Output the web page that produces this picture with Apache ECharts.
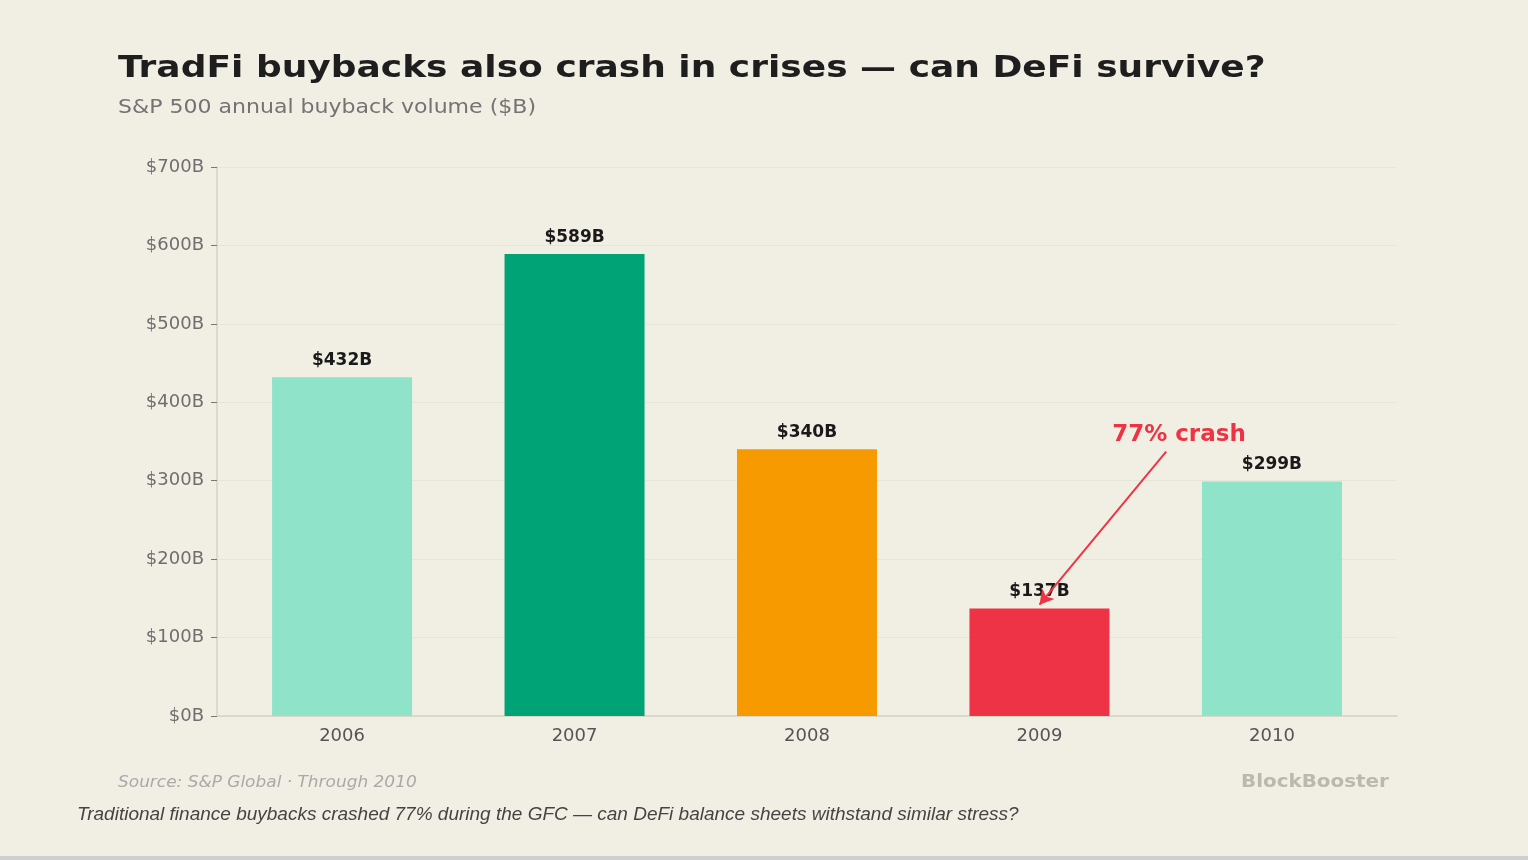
<!DOCTYPE html>
<html>
<head>
<meta charset="utf-8">
<script src="https://cdn.jsdelivr.net/npm/echarts@6/dist/echarts.min.js"></script>
<style>
  html, body { margin: 0; padding: 0; background: #f1efe4; }
  #chart { width: 1528px; height: 860px; }
  .bottom-bar { position: absolute; left: 0; top: 856px; width: 1528px; height: 4px; background: #cfcfcf; }
</style>
</head>
<body>
<div id="chart"></div>
<div class="bottom-bar"></div>
<script>
// data
const years = ['2006', '2007', '2008', '2009', '2010']
const buybacks = [432, 589, 340, 137, 299]
const barColors = ['#8fe3c8', '#00a376', '#f79a00', '#ef3346', '#8fe3c8']
const yTicks = [0, 100, 200, 300, 400, 500, 600, 700]
// annotation: arrow from text to the 2009 bar (x in category units)
const crashText = [3.6, 358]
const crashArrow = [[3.545, 337], [3.0, 142]]

const chart = echarts.init(document.getElementById('chart'))

const option = {
  backgroundColor: '#f1efe4',
  animation: false,
  textStyle: { fontFamily: 'DejaVu Sans' },
  grid: { left: 217, right: 131, top: 167, bottom: 144 },
  xAxis: {
    type: 'value',
    min: -0.538, max: 4.538,
    splitLine: { show: false },
    axisLine: { onZero: false, lineStyle: { color: '#d6d2c3', width: 1.5 } },
    axisTick: { show: false },
    axisLabel: {
      color: '#555555', fontSize: 18, margin: 11,
      customValues: years.map((y, i) => i),
      formatter: v => years[Math.round(v)]
    }
  },
  yAxis: {
    type: 'value',
    min: 0, max: 700, interval: 100,
    axisLine: { show: true, onZero: false, lineStyle: { color: '#d6d2c3', width: 1.5 } },
    axisTick: { show: true, length: 6, lineStyle: { color: '#777' } },
    axisLabel: { color: '#6e6e6e', fontSize: 18, margin: 13, formatter: v => '$' + v + 'B' },
    splitLine: { lineStyle: { color: '#e7e4d8', width: 1 } }
  },
  series: [
    {
      type: 'bar',
      barWidth: 140,
      data: buybacks.map((v, i) => ({ value: [i, v], itemStyle: { color: barColors[i] } })),
      label: {
        show: true,
        position: 'top',
        distance: 8,
        formatter: p => '$' + p.value[1] + 'B',
        color: '#1a1a1a',
        fontWeight: 'bold',
        fontSize: 17
      }
    },
    {
      type: 'scatter',
      symbolSize: 0,
      itemStyle: { opacity: 1 },
      data: [crashText],
      label: {
        show: true,
        position: 'inside',
        formatter: '77% crash',
        color: '#ee3344',
        fontWeight: 'bold',
        fontSize: 23
      },
      markLine: {
        silent: true,
        symbol: ['none', 'arrow'],
        symbolSize: [12, 14],
        label: { show: false },
        lineStyle: { color: '#ee3344', width: 2, type: 'solid', opacity: 1 },
        data: [[{ coord: crashArrow[0] }, { coord: crashArrow[1] }]]
      }
    }
  ],
  graphic: [
    {
      type: 'text', x: 118, y: 54, scaleX: 1.2,
      style: {
        text: 'TradFi buybacks also crash in crises — can DeFi survive?',
        fill: '#1e1e1e', font: 'bold 30px "DejaVu Sans"', verticalAlign: 'top'
      }
    },
    {
      type: 'text', x: 118, y: 99, scaleX: 1.16,
      style: {
        text: 'S&P 500 annual buyback volume ($B)',
        fill: '#737373', font: '19px "DejaVu Sans"', verticalAlign: 'top'
      }
    },
    {
      type: 'text', x: 118, y: 776, scaleX: 1.13,
      style: { text: 'Source: S&P Global · Through 2010', fill: '#a9a9a9', font: 'italic 15px "DejaVu Sans"', verticalAlign: 'top' }
    },
    {
      type: 'text', x: 1241, y: 774, scaleX: 1.17,
      style: { text: 'BlockBooster', fill: '#bcb8aa', font: 'bold 17px "DejaVu Sans"', verticalAlign: 'top' }
    },
    {
      type: 'text', x: 77, y: 805,
      style: {
        text: 'Traditional finance buybacks crashed 77% during the GFC — can DeFi balance sheets withstand similar stress?',
        fill: '#444444', font: 'italic 19px "Liberation Sans"', verticalAlign: 'top'
      }
    }
  ]
}

chart.setOption(option)

window.addEventListener('resize', function () {
  chart.resize()
})
</script>
</body>
</html>
